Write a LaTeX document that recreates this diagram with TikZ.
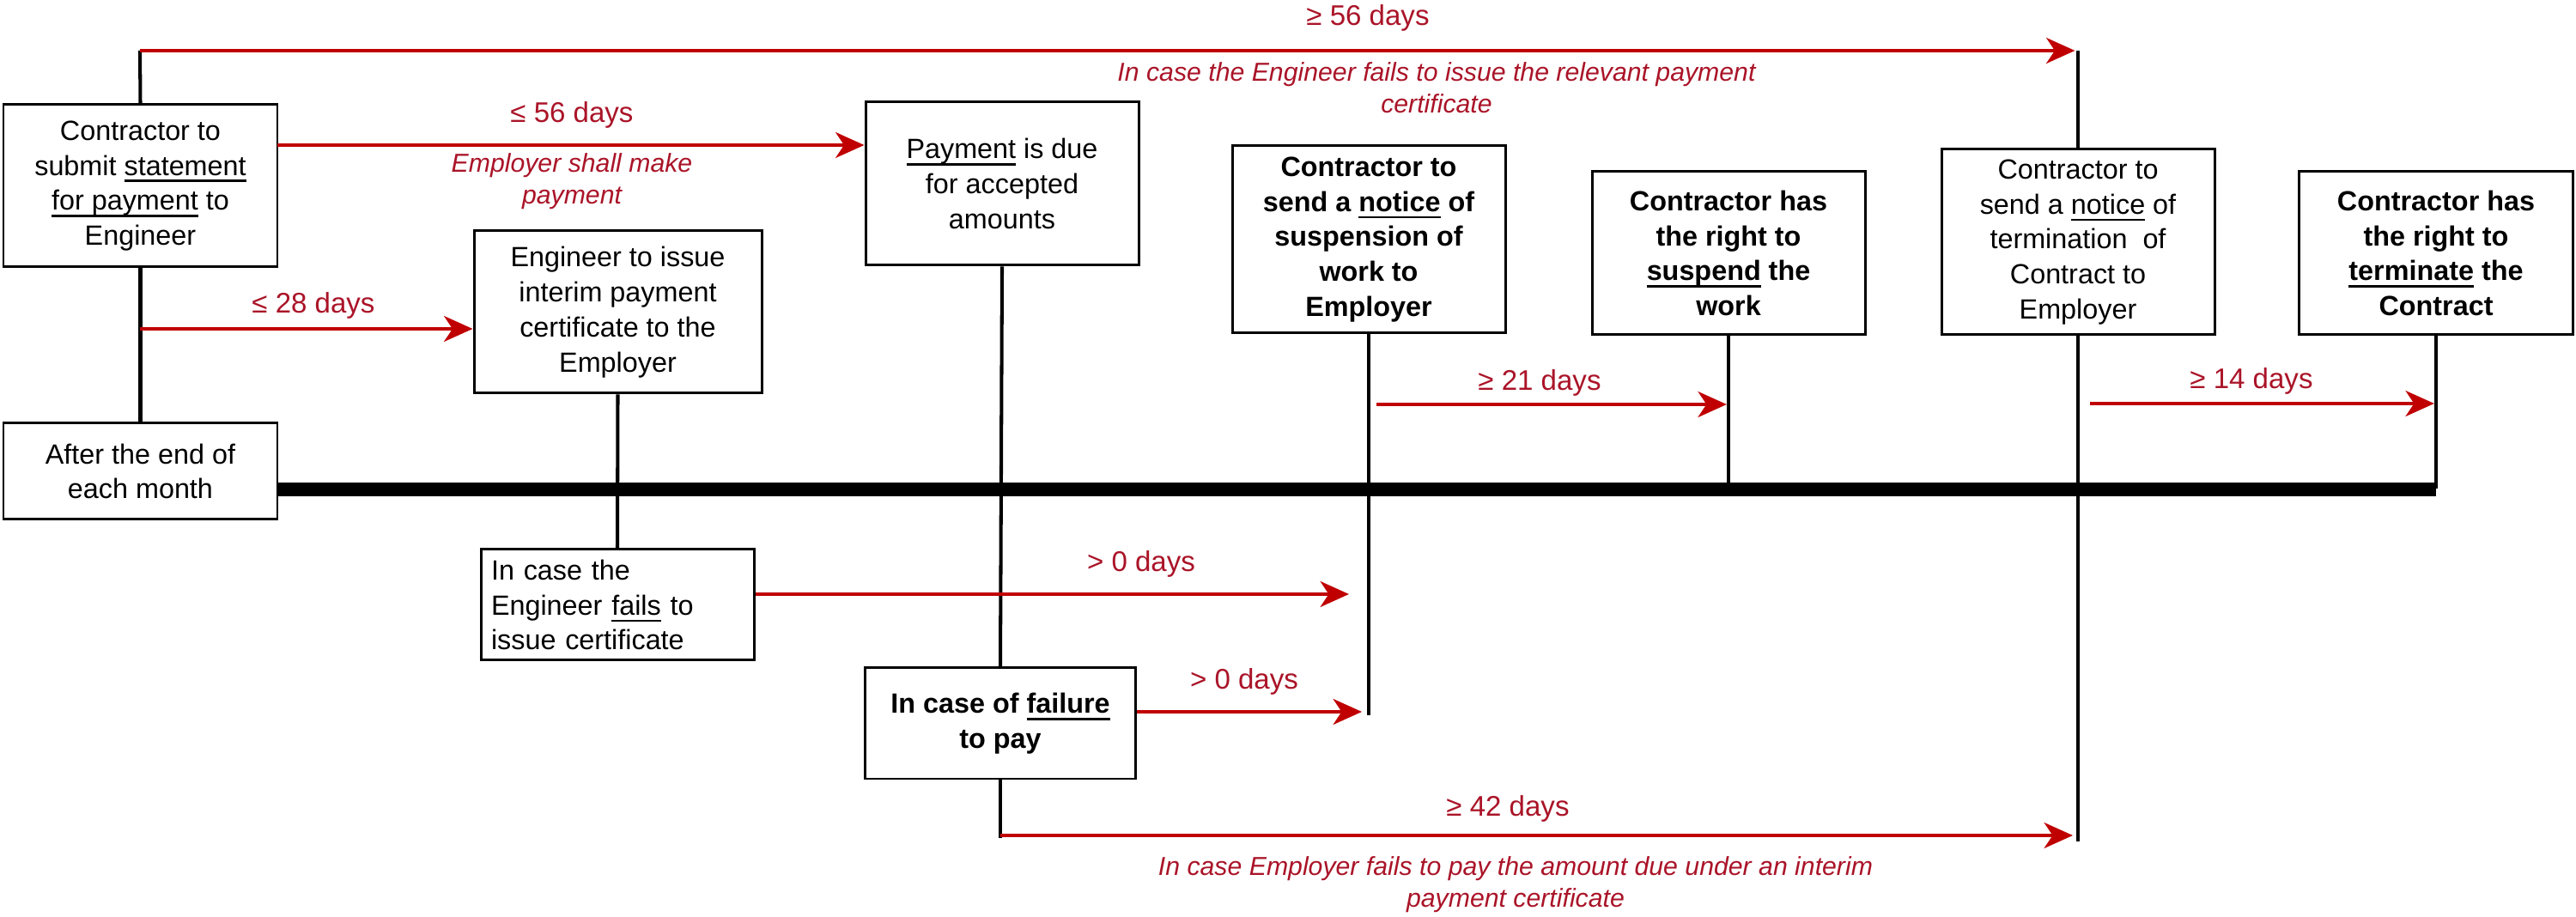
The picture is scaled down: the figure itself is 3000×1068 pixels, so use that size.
\documentclass[tikz,border=0pt]{standalone}
\usepackage{fontspec}
\setmainfont{Liberation Sans}
\usetikzlibrary{arrows.meta}
\definecolor{linered}{RGB}{192,0,0}
\definecolor{textred}{RGB}{170,20,40}
\newcommand{\ulx}[1]{\setbox0\hbox{#1}\rlap{\rule[-2.3pt]{\wd0}{0.75pt}}\box0\relax}
\begin{document}
\begin{tikzpicture}[x=0.01cm,y=-0.01cm,
  box/.style={draw=black,line width=0.85pt,fill=white,inner sep=0pt,align=center,
    font=\fontsize{9.2}{11.6}\selectfont},
  boldbox/.style={box,font=\fontsize{9.2}{11.6}\selectfont\bfseries},
  stem/.style={draw=black,line width=1.15pt},
  redarrow/.style={draw=linered,line width=1.15pt,-{Stealth[length=9.5pt,width=8.5pt,inset=2.8pt]}},
  daylabel/.style={text=textred,font=\fontsize{9.4}{11}\selectfont,inner sep=0pt},
  note/.style={text=textred,font=\fontsize{8.6}{10.6}\selectfont\itshape,align=center,inner sep=0pt},
  timeline/.style={draw=black,line width=4.3pt}
]
\useasboundingbox[fill=white] (0,0) rectangle (3000,1068);

% boxes
\node[box,minimum width=319*0.01cm,minimum height=189*0.01cm] (A) at (163.5,216.5)
  {Contractor to\\submit \ulx{statement}\\\ulx{for payment} to\\Engineer};
\node[box,minimum width=319*0.01cm,minimum height=112*0.01cm] (end) at (163.5,549)
  {After the end of\\each month};
\node[box,minimum width=335*0.01cm,minimum height=189*0.01cm] (B) at (719.5,363.5)
  {Engineer to issue\\interim payment\\certificate to the\\Employer};
\node[box,minimum width=318*0.01cm,minimum height=190*0.01cm] (pay) at (1167,214)
  {\ulx{Payment} is due\\for accepted\\amounts};
\node[boldbox,minimum width=318*0.01cm,minimum height=218*0.01cm] (notice) at (1594,279)
  {Contractor to\\send a \ulx{notice} of\\suspension of\\work to\\Employer};
\node[boldbox,minimum width=318*0.01cm,minimum height=190*0.01cm] (susp) at (2013,295)
  {Contractor has\\the right to\\\ulx{suspend} the\\work};
\node[box,minimum width=318*0.01cm,minimum height=216*0.01cm] (tnotice) at (2420,282)
  {Contractor to\\send a \ulx{notice} of\\termination\ \ of\\Contract to\\Employer};
\node[boldbox,minimum width=319*0.01cm,minimum height=190*0.01cm] (term) at (2837,295)
  {Contractor has\\the right to\\\ulx{terminate} the\\Contract};
\node[box,align=left,minimum width=318*0.01cm,minimum height=129*0.01cm,text width=294*0.01cm] (fails) at (719,704.5)
  {In case the\\Engineer \ulx{fails} to\\issue certificate};
\node[boldbox,minimum width=315*0.01cm,minimum height=129*0.01cm] (failure) at (1165,842.5)
  {In case of \ulx{failure}\\to pay};

% helper coordinates
\coordinate (topL) at (163,59);
\coordinate (topR) at (2420,59);
\coordinate (tlEnd) at (2837,570);
\coordinate (noticeEnd) at (1594,833);
\coordinate (tnoticeEnd) at (2420,980);
\coordinate (failEnd) at (1165,976);
\coordinate (suspBase) at (2013,570);

% timeline
\draw[timeline] (end.east |- 0,570) -- (tlEnd);

% black stems
\draw[stem] (A.north) -- (topL);
\draw[stem] (A.south) -- (end.north);
\draw[stem] (B.south) -- (fails.north);
\draw[stem] (pay.south) -- (failure.north);
\draw[stem] (failure.south) -- (failEnd);
\draw[stem] (notice.south) -- (noticeEnd);
\draw[stem] (susp.south) -- (suspBase);
\draw[stem] (tnotice.north) -- (topR);
\draw[stem] (tnotice.south) -- (tnoticeEnd);
\draw[stem] (term.south) -- ([yshift=0.2pt]tlEnd);

% red arrows
\draw[redarrow] (topL) -- ([xshift=-1pt]topR);
\draw[redarrow] (323,169) -- (pay.west |- 0,169);
\draw[redarrow] (163,383) -- (B.west |- 0,383);
\draw[redarrow] (1603,471) -- ([xshift=-0.6pt]susp.south |- 0,471);
\draw[redarrow] (2434,470) -- ([xshift=-0.6pt]term.south |- 0,470);
\draw[redarrow] (fails.east |- 0,692) -- (1571,692);
\draw[redarrow] (failure.east |- 0,829) -- (1586,829);
\draw[redarrow] (failEnd |- 0,973) -- (2414,973);

% labels
\node[daylabel] (l56top) at (1593,21) {≥ 56 days};
\node[note] (n56top) at (1673,102) {In case the Engineer fails to issue the relevant payment\\certificate};
\node[daylabel] (l56) at (666,134) {≤ 56 days};
\node[note] (n56) at (666,211) {Employer shall make\\payment};
\node[daylabel] (l28) at (365,356) {≤ 28 days};
\node[daylabel] (l21) at (1793,446) {≥ 21 days};
\node[daylabel] (l14) at (2622,444) {≥ 14 days};
\node[daylabel] (l0a) at (1329,657) {> 0 days};
\node[daylabel] (l0b) at (1449,794) {> 0 days};
\node[daylabel] (l42) at (1756,942) {≥ 42 days};
\node[note] (n42) at (1765,1030) {In case Employer fails to pay the amount due under an interim\\payment certificate};
\end{tikzpicture}
\end{document}
